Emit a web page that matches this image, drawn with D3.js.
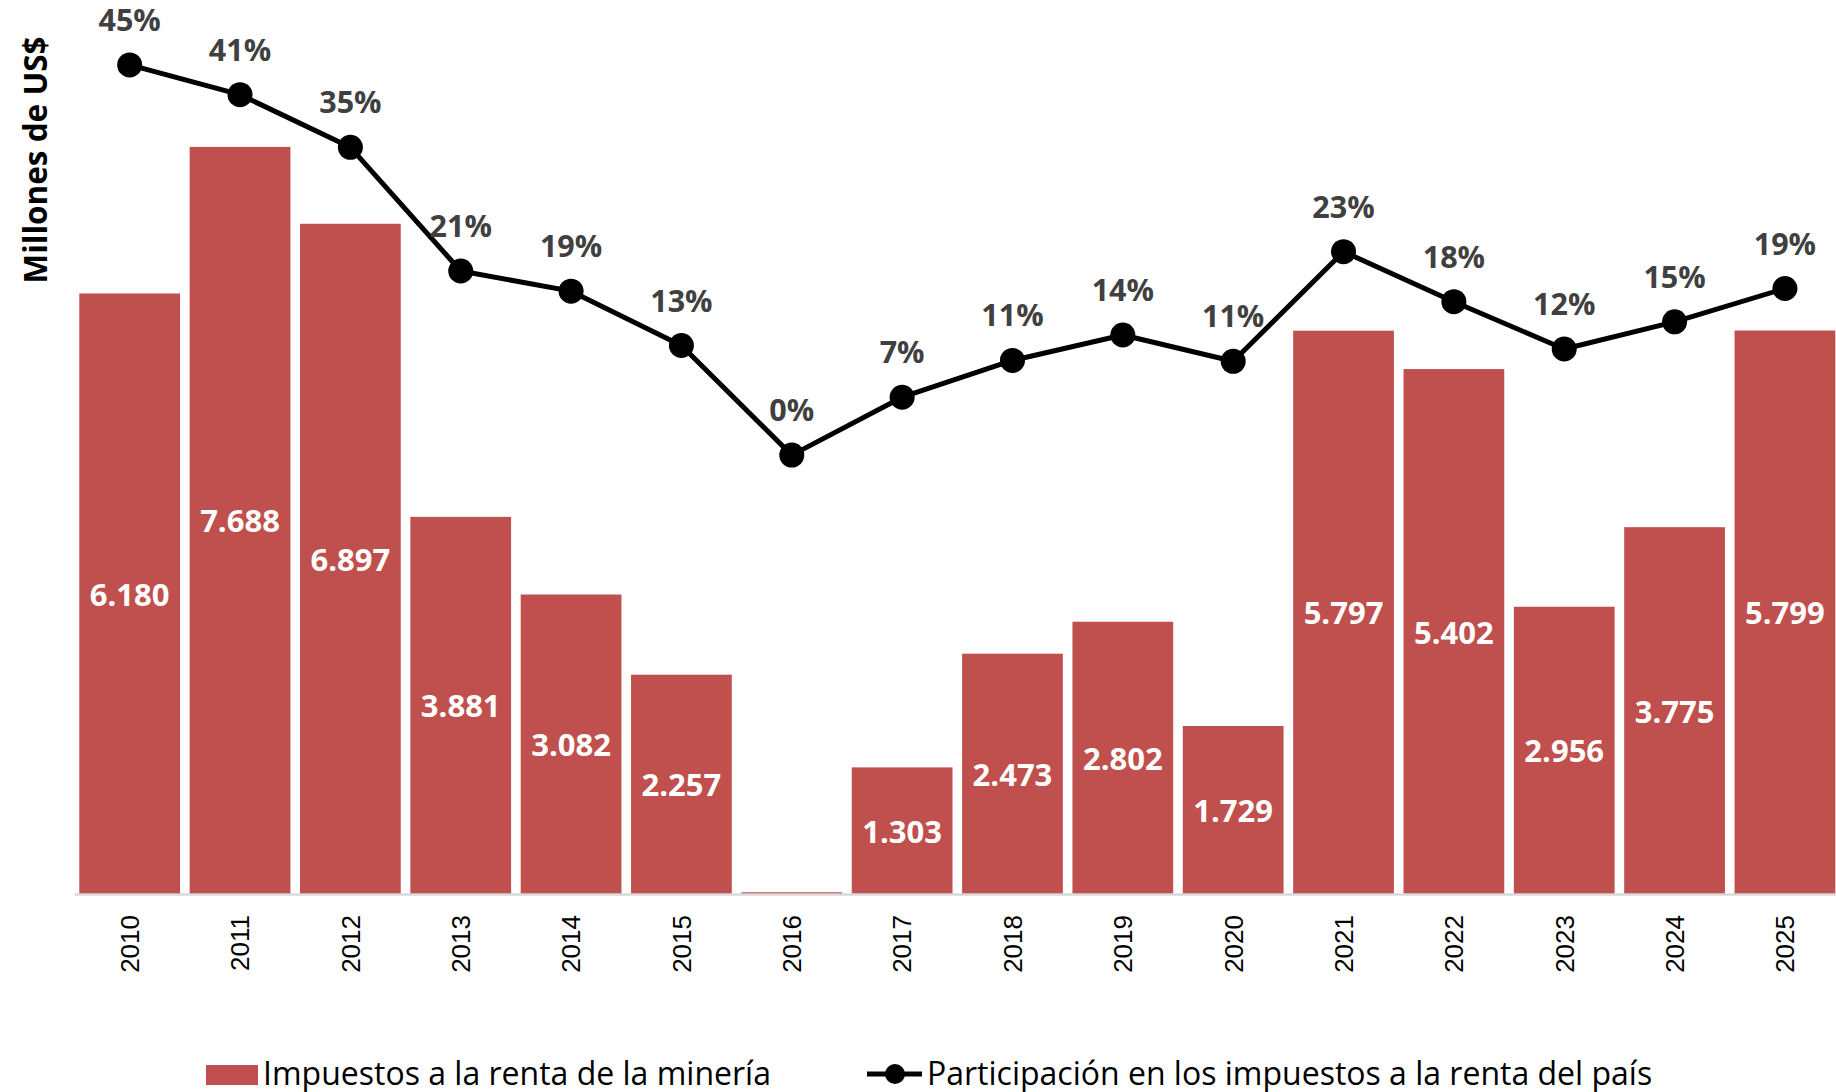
<!DOCTYPE html>
<html lang="es">
<head>
<meta charset="utf-8">
<script src="https://cdn.jsdelivr.net/npm/d3@7"></script>
<style>
  html, body { margin: 0; padding: 0; background: #ffffff; }
  svg { display: block; }
</style>
</head>
<body>
<svg id="chart" width="1836" height="1092"></svg>
<script>
// Años del eje horizontal
const years = ["2010","2011","2012","2013","2014","2015","2016","2017",
               "2018","2019","2020","2021","2022","2023","2024","2025"];

// Impuestos a la renta de la minería (millones de US$)
const miningTax = [6180, 7688, 6897, 3881, 3082, 2257, 18, 1303,
                   2473, 2802, 1729, 5797, 5402, 2956, 3775, 5799];

// Participación en los impuestos a la renta del país (%)
const shareOfIncomeTax = [44.6, 41.2, 35.2, 21.1, 18.8, 12.6, 0.1, 6.7,
                          10.9, 13.8, 10.8, 23.3, 17.6, 12.2, 15.3, 19.1];

const legendLabels = ["Impuestos a la renta de la minería",
                      "Participación en los impuestos a la renta del país"];
const yAxisTitle = "Millones de US$";

const BAR_COLOR = "#C0504D";
const LINE_COLOR = "#000000";
const SANS = "'Open Sans', 'Noto Sans', 'DejaVu Sans', sans-serif";
const AXIS_FONT = "'Liberation Sans', Arial, sans-serif";

const svg = d3.select("#chart");

const baseY = 894;

const x = d3.scaleBand()
  .domain(years)
  .range([74, 1840.6])
  .paddingInner(0.087)
  .paddingOuter(0.048);

const yBar = d3.scaleLinear().domain([0, 9200]).range([baseY, 0]);
const yPct = d3.scaleLinear().domain([0, 52]).range([456, 0]);

const fmtThousands = d3.formatLocale({ decimal: ",", thousands: ".", grouping: [3] }).format(",d");

// Barras
const bars = years.map((yr, i) => ({ yr, v: miningTax[i] }));
svg.append("g").selectAll("rect")
  .data(bars)
  .join("rect")
  .attr("x", d => x(d.yr))
  .attr("width", x.bandwidth())
  .attr("y", d => yBar(d.v))
  .attr("height", d => baseY - yBar(d.v))
  .attr("fill", BAR_COLOR);

// Etiquetas dentro de las barras
svg.append("g").selectAll("text")
  .data(bars.filter(d => d.v >= 500))
  .join("text")
  .attr("x", d => x(d.yr) + x.bandwidth() / 2)
  .attr("y", d => (yBar(d.v) + baseY) / 2 + 12)
  .attr("text-anchor", "middle")
  .attr("font-family", SANS)
  .attr("font-weight", 700)
  .attr("font-size", 31)
  .attr("fill", "#ffffff")
  .text(d => fmtThousands(d.v));

// Eje horizontal
const xAxis = svg.append("g")
  .attr("transform", `translate(0,${baseY})`)
  .call(d3.axisBottom(x).tickSize(0).tickSizeOuter(0));
xAxis.select(".domain")
  .attr("stroke", "#d9d9d9")
  .attr("stroke-width", 2.5);
xAxis.selectAll(".tick text")
  .attr("transform", "rotate(-90)")
  .attr("text-anchor", "end")
  .attr("x", -21)
  .attr("y", 0)
  .attr("dy", "0.36em")
  .attr("font-family", AXIS_FONT)
  .attr("font-size", 26)
  .attr("fill", "#000000");

// Línea de participación
const pts = years.map((yr, i) => ({ yr, p: shareOfIncomeTax[i] }));
const line = d3.line()
  .x(d => x(d.yr) + x.bandwidth() / 2)
  .y(d => yPct(d.p));

svg.append("path")
  .datum(pts)
  .attr("d", line)
  .attr("fill", "none")
  .attr("stroke", LINE_COLOR)
  .attr("stroke-width", 5)
  .attr("stroke-linejoin", "round");

svg.append("g").selectAll("circle")
  .data(pts)
  .join("circle")
  .attr("cx", d => x(d.yr) + x.bandwidth() / 2)
  .attr("cy", d => yPct(d.p))
  .attr("r", 12.5)
  .attr("fill", LINE_COLOR);

svg.append("g").selectAll("text")
  .data(pts)
  .join("text")
  .attr("x", d => x(d.yr) + x.bandwidth() / 2)
  .attr("y", d => yPct(d.p) - 34)
  .attr("text-anchor", "middle")
  .attr("font-family", SANS)
  .attr("font-weight", 700)
  .attr("font-size", 30.5)
  .attr("fill", "#404040")
  .text(d => Math.round(d.p) + "%");

// Título del eje vertical
svg.append("text")
  .attr("transform", "translate(47,160) rotate(-90)")
  .attr("text-anchor", "middle")
  .attr("font-family", SANS)
  .attr("font-weight", 700)
  .attr("font-size", 31.5)
  .attr("fill", "#000000")
  .text(yAxisTitle);

// Leyenda
const legend = svg.append("g");
legend.append("rect")
  .attr("x", 206).attr("y", 1065)
  .attr("width", 52).attr("height", 20)
  .attr("fill", BAR_COLOR);
legend.append("text")
  .attr("x", 263).attr("y", 1085)
  .attr("font-family", SANS)
  .attr("font-size", 32)
  .attr("fill", "#000000")
  .text(legendLabels[0]);

legend.append("line")
  .attr("x1", 867).attr("x2", 922)
  .attr("y1", 1074).attr("y2", 1074)
  .attr("stroke", LINE_COLOR)
  .attr("stroke-width", 5);
legend.append("circle")
  .attr("cx", 895).attr("cy", 1074).attr("r", 10)
  .attr("fill", LINE_COLOR);
legend.append("text")
  .attr("x", 927).attr("y", 1085)
  .attr("font-family", SANS)
  .attr("font-size", 32)
  .attr("fill", "#000000")
  .text(legendLabels[1]);
</script>
</body>
</html>
